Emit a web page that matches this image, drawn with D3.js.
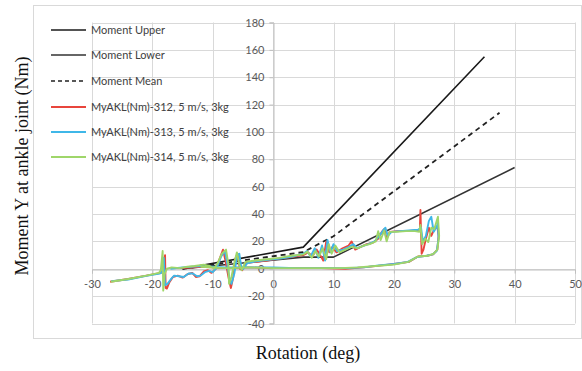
<!DOCTYPE html>
<html><head><meta charset="utf-8">
<script src="https://cdn.jsdelivr.net/npm/d3@7"></script>
<style>
html,body{margin:0;padding:0;background:#fff;}
svg{display:block;}
</style></head>
<body>
<svg id="chart" width="582" height="371"></svg>
<script>
// ---- data ----
const xTicks = [-30,-20,-10,0,10,20,30,40,50];
const yTicks = [-40,-20,0,20,40,60,80,100,120,140,160,180];
const seriesNames = ["Moment Upper","Moment Lower","Moment Mean",
  "MyAKL(Nm)-312, 5 m/s, 3kg","MyAKL(Nm)-313, 5 m/s, 3kg","MyAKL(Nm)-314, 5 m/s, 3kg"];
const momentUpper = [[-15,0],[5,15.8],[35,155]];
const momentLower = [[-15,0],[5,8.5],[10,8.5],[40,74]];
const momentMean  = [[-15,0],[5,12.2],[10,23.8],[37.5,114]];
const akl312 = [[-27.0,-9.5],[-24,-7.5],[-21,-5],[-18.6,-3],[-18.3,-2],[-17.9,10],[-17.8,-14],[-17.6,-14.5],[-17.2,-10],[-16.6,-6],[-15.8,-5],[-15,-6.5],[-14.2,-4],[-13.4,-3],[-12.8,-6],[-12.2,-5.5],[-11.5,-2],[-10.8,-1],[-10.2,-3],[-9.5,0],[-8.8,8],[-8.3,14],[-7.9,6],[-7.4,-6],[-7.0,-14],[-6.6,-6],[-6.2,8],[-5.9,11],[-5.5,0],[-5.1,-1],[-4.5,4],[-3,5],[-1,6],[1,7.5],[3,8.5],[5,10],[5.8,12],[6.5,9],[7.2,14],[7.8,10],[8.3,6],[8.8,20],[9.3,12],[9.8,16],[10.5,12],[11.5,15],[12.5,17],[13.0,20],[13.6,14],[14.5,16],[15.5,18],[16.5,19],[17.4,22],[18,27],[18.4,29],[18.8,22],[19.3,27],[20.5,27.5],[22,27.5],[23.5,28],[24.3,28],[24.4,43],[24.6,11],[24.9,14],[25.3,22],[25.8,30],[26.2,24],[26.7,29],[27.2,31],[27.4,24],[27.2,14],[26.5,10.5],[25.5,9.5],[24,9],[22.5,5],[20,3.5],[18,2.5],[15,1],[12,0],[8,0.5],[4,0.5],[0,0.5],[-4,1],[-8,0.5],[-12,1.5],[-15,0.5],[-17,0.5]];
const akl313 = [[-26.8,-9],[-24,-7.8],[-21,-5.2],[-18.8,-3.5],[-18.4,-2.5],[-18.1,8],[-17.9,-12],[-17.5,-11],[-17,-8],[-16.4,-5],[-15.6,-5.5],[-14.8,-6],[-14,-3.5],[-13.3,-3.5],[-12.6,-5.5],[-12,-5],[-11.3,-2.5],[-10.6,-1.5],[-10,-2.5],[-9.3,1],[-8.6,9],[-8.0,13],[-7.6,4],[-7.2,-8],[-6.9,-11],[-6.4,-3],[-6.0,9],[-5.6,11],[-5.3,2],[-4.9,0],[-4.3,4],[-2.8,5.5],[-0.8,6.5],[1.2,7.5],[3.2,9],[5,11],[5.6,13],[6.2,9],[6.9,15],[7.5,8],[8.1,17],[8.6,6],[9.0,21],[9.5,12],[10,18],[10.6,13],[11.6,14],[12.6,16],[13.3,18],[13.9,15],[14.8,16.5],[15.8,18],[16.8,20],[17.6,24],[18.2,28],[18.6,30],[19,24],[19.6,27],[21,27.5],[22.5,28],[24,28.5],[24.5,30],[24.8,20],[25.3,24],[25.8,35],[26.2,38],[26.6,27],[27,30],[27.3,33],[27.4,22],[27.1,13],[26.4,10.5],[25.4,9.5],[23.8,8.5],[22.3,5],[20,3.5],[17.5,2.5],[15,1],[12,0.5],[8,0.5],[4,0.5],[0,1],[-4,1],[-8,1],[-12,2],[-15,1],[-17,0]];
const akl314 = [[-26.9,-9.5],[-24,-7.5],[-21,-5],[-18.9,-3],[-18.6,-1],[-18.3,13],[-18.2,-16],[-18.0,-4],[-17.6,0],[-16.8,1],[-15.5,0.5],[-14.2,1.5],[-13,2],[-11.5,3],[-10.5,2],[-9.8,0],[-9.2,4],[-8.5,11],[-7.8,14],[-7.4,3],[-7.3,-11],[-6.9,-6],[-6.4,5],[-6.0,12],[-5.6,3],[-5.2,-1],[-4.6,5],[-3,6],[-1,7],[1,8],[3,9.5],[5,10.5],[5.7,12.5],[6.4,8],[7.0,13],[7.6,9],[8.2,15],[8.8,7],[9.2,18],[9.7,11],[10.3,17],[11,12],[12,14],[13,16],[14,15],[15,17],[16,18],[17,20],[17.4,27.5],[17.8,21],[18.4,28],[18.8,20],[19.3,27],[20.5,27],[22,27.5],[23.5,27.5],[24.2,27],[24.4,32],[24.7,18],[25.2,22],[25.7,19.5],[26.2,30],[26.7,29],[27.1,35],[27.3,38],[27.5,24],[27.2,14],[26.6,11],[25.6,9.5],[24,9],[22.4,5],[20,3],[17,2],[14,1],[11,0.5],[7,0.5],[3,0.5],[0,0.5],[-4,1],[-8,0.5],[-12,1.5]];

// ---- drawing ----
const svg = d3.select("#chart");
const W = 582, H = 371;
const x = d3.scaleLinear().domain([-30,50]).range([92,575]);
const y = d3.scaleLinear().domain([-40,180]).range([323.5,22.5]);
const tickFont = "Lato, 'Open Sans', sans-serif";

// chart border
svg.append("rect").attr("x",33.5).attr("y",5.5).attr("width",W-34).attr("height",333)
  .attr("fill","none").attr("stroke","#d9d9d9").attr("stroke-width",1);

// gridlines
const grid = svg.append("g");
grid.selectAll(".vg").data(xTicks).join("line")
  .attr("x1",d=>Math.round(x(d))+0.5).attr("x2",d=>Math.round(x(d))+0.5)
  .attr("y1",y(180)).attr("y2",y(-40)).attr("stroke","#d9d9d9").attr("stroke-width",1);
grid.selectAll(".hg").data(yTicks).join("line")
  .attr("y1",d=>Math.round(y(d))+0.5).attr("y2",d=>Math.round(y(d))+0.5)
  .attr("x1",x(-30)).attr("x2",x(50)).attr("stroke","#d9d9d9").attr("stroke-width",1);

// axes at zero
const fmt = d => String(d);
const xAxis = d3.axisBottom(x).tickValues(xTicks).tickSize(4).tickPadding(6).tickFormat(fmt);
const yAxis = d3.axisLeft(y).tickValues(yTicks).tickSize(4).tickPadding(5).tickFormat(fmt);
const gx = svg.append("g").attr("transform",`translate(0,${Math.round(y(0))+0.5})`).call(xAxis);
const gy = svg.append("g").attr("transform",`translate(${Math.round(x(0))+0.5},0)`).call(yAxis);
[gx,gy].forEach(g=>{
  g.select(".domain").attr("stroke","#bfbfbf").attr("stroke-width",1);
  g.selectAll(".tick line").attr("stroke","#bfbfbf");
  g.selectAll("text").attr("fill","#595959").style("font-family",tickFont).style("font-size","11px");
});
gx.selectAll(".tick text").attr("dy","0.75em");

// lines
const line = d3.line().x(d=>x(d[0])).y(d=>y(d[1]));
const seriesData = [momentUpper,momentLower,momentMean,akl312,akl313,akl314];
const colors = ["#1a1a1a","#333333","#222222","#e8453c","#3fb7e8","#9fd66a"];
const widths = [1.6,1.6,1.8,1.9,1.9,1.9];
const dashes = [null,null,"5,4",null,null,null];
svg.append("g").selectAll("path").data(seriesData).join("path")
  .attr("d",line).attr("fill","none")
  .attr("stroke",(d,i)=>colors[i]).attr("stroke-width",(d,i)=>widths[i])
  .attr("stroke-dasharray",(d,i)=>dashes[i]).attr("stroke-linejoin","round");

// legend
const legY = [30,55,81,107,132,157];
const leg = svg.append("g").selectAll("g").data(seriesNames).join("g")
  .attr("transform",(d,i)=>`translate(0,${legY[i]})`);
leg.append("line").attr("x1",51).attr("x2",86).attr("y1",0).attr("y2",0)
  .attr("stroke",(d,i)=>colors[i]).attr("stroke-width",(d,i)=>i>=3?2.2:1.6)
  .attr("stroke-dasharray",(d,i)=>i===2?"4,3":null);
leg.append("text").attr("x",91).attr("y",0).attr("dy","0.35em")
  .style("font-family",tickFont).style("font-size","11px").attr("fill","#404040")
  .text(d=>d);

// axis titles
svg.append("text").attr("x",308).attr("y",359).attr("text-anchor","middle")
  .style("font-family","'Liberation Serif', 'Times New Roman', serif").style("font-size","18px")
  .attr("fill","#111").text("Rotation (deg)");
svg.append("text").attr("transform","translate(28,166) rotate(-90)").attr("text-anchor","middle")
  .style("font-family","'Liberation Serif', 'Times New Roman', serif").style("font-size","18px")
  .attr("fill","#111").text("Moment Y at ankle joint (Nm)");
</script>
</body></html>
